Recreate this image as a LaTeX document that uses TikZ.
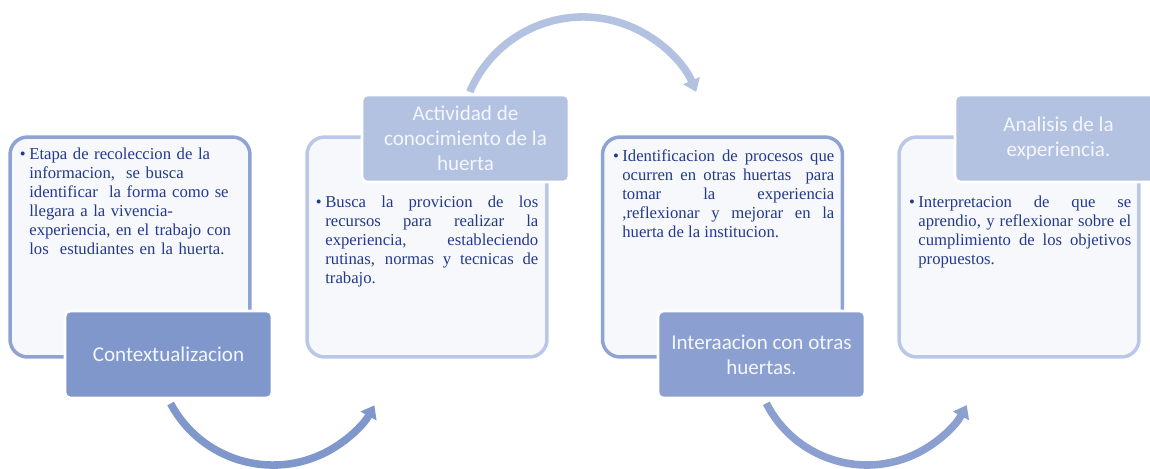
\documentclass[tikz,border=0pt]{standalone}
\usepackage{fontspec}
\setmainfont{Liberation Serif}
\newfontfamily\tagfont{Carlito}
\usetikzlibrary{arrows.meta,positioning,calc}
\definecolor{hrtdark}{RGB}{128,151,204}
\definecolor{hrtmid}{RGB}{139,160,209}
\definecolor{hrtlight}{RGB}{180,194,226}
\definecolor{hrtedge}{RGB}{142,163,212}
\definecolor{hrtedgelt}{RGB}{186,199,230}
\definecolor{hrtfill}{RGB}{247,248,252}
\definecolor{hrttext}{RGB}{35,58,140}
\definecolor{hrtwhite}{RGB}{243,246,252}
\newcommand\hrtbullet{\tolerance=10000\relax\hbadness=10000\relax
  \leavevmode\llap{\textbullet\hspace{2pt}}}

\begin{document}
\begin{tikzpicture}[
  x=0.02cm, y=0.02cm,
  infobox/.style={rectangle, rounded corners=10pt, line width=2pt, fill=hrtfill,
                  minimum width=4.8cm, minimum height=4.4cm},
  tagbox/.style={rectangle, rounded corners=3pt, draw=white, line width=1.5pt,
                 minimum width=4.14cm, minimum height=1.74cm, align=center,
                 text=hrtwhite, font=\tagfont\fontsize{12}{14.2}\selectfont},
  bodytext/.style={inner sep=0pt, anchor=north west, text width=4.26cm, align=justify,
                   text=hrttext, font=\fontsize{9.5}{10.8}\selectfont},
  cyclearrow/.style={line width=4.3pt, -{Triangle[length=7pt,width=10pt]}}
]
\useasboundingbox (0,0) rectangle (1150,-468);

% cycle arrows
\coordinate (arcone) at (170.6,-403.5);
\coordinate (arctwo) at (469.8,-91.9);
\coordinate (arcthree) at (766.3,-403.3);
\draw[cyclearrow, draw=hrtdark] (arcone) arc[start angle=208, end angle=331, radius=2.32cm];
\draw[cyclearrow, draw=hrtlight] (arctwo) arc[start angle=157, end angle=23, radius=2.46cm];
\draw[cyclearrow, draw=hrtmid] (arcthree) arc[start angle=207, end angle=332, radius=2.26cm];

% Contextualizacion
\node[infobox, draw=hrtedge] (ctxbox) at (130,-247) {};
\node[tagbox, fill=hrtdark] (ctxtag) at (168.5,-354.5) {Contextualizacion};
\node[bodytext, text width=4.3cm, align=left] (ctxtext) at (29,-148) {%
  \hrtbullet Etapa de recoleccion de la\\
  informacion,~ se busca\\
  identificar~ la forma como se\\
  llegara a la vivencia-\\
  experiencia, en el trabajo con\\
  los~ estudiantes en la huerta.};

% Actividad de conocimiento
\node[infobox, draw=hrtedgelt] (actbox) at (427,-247) {};
\node[tagbox, fill=hrtlight] (acttag) at (465.5,-138.5) {Actividad de\\conocimiento de la\\huerta};
\node[bodytext] (acttext) at (325,-196) {%
  \hrtbullet Busca la provicion de los\linebreak
  recursos para realizar la\linebreak
  experiencia, estableciendo\linebreak
  rutinas, normas y tecnicas de\linebreak
  trabajo.};

% Interaacion con otras huertas
\node[infobox, draw=hrtedge] (intbox) at (722.5,-247) {};
\node[tagbox, fill=hrtmid] (inttag) at (761.5,-354.5) {Interaacion con otras\\huertas.};
\node[bodytext, text width=4.24cm] (inttext) at (622,-149) {%
  \hrtbullet Identificacion de procesos que\linebreak
  ocurren en otras huertas~ para\linebreak
  tomar la experiencia\linebreak
  ,reflexionar y mejorar en la\linebreak
  huerta de la institucion.};

% Analisis de la experiencia
\node[infobox, draw=hrtedgelt] (anabox) at (1019,-247) {};
\node[tagbox, fill=hrtlight] (anatag) at (1058.5,-138.5) {Analisis de la\\experiencia.};
\node[bodytext] (anatext) at (918,-196) {%
  \hrtbullet Interpretacion de que se\linebreak
  aprendio, y reflexionar sobre el\linebreak
  cumplimiento de los objetivos\linebreak
  propuestos.};

\end{tikzpicture}
\end{document}
